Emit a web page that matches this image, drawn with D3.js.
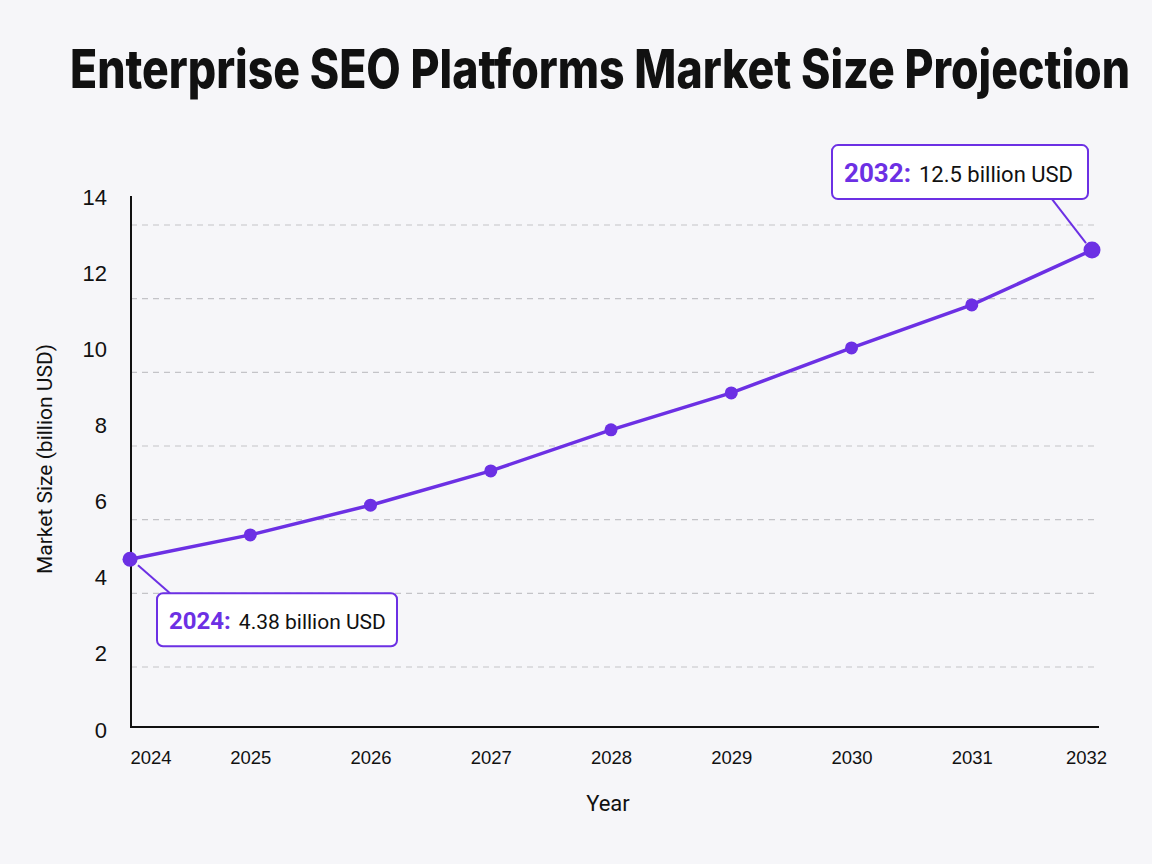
<!DOCTYPE html>
<html>
<head>
<meta charset="utf-8">
<script src="https://cdn.jsdelivr.net/npm/d3@7"></script>
<style>
  html, body { margin: 0; padding: 0; background: #f6f6f9; }
  svg { display: block; font-family: Roboto, "Noto Sans", sans-serif; }
</style>
</head>
<body>
<div class="chart"></div>
<script>
let years = [2024, 2025, 2026, 2027, 2028, 2029, 2030, 2031, 2032];
let marketSize = [4.38, 5.02, 5.8, 6.7, 7.78, 8.75, 9.93, 11.06, 12.5];
let yTicks = [0, 2, 4, 6, 8, 10, 12, 14];
let gridTicks = [2, 4, 6, 8, 10, 12, 14];
let callouts = [
  { year: 2024, label: "2024:", text: "4.38 billion USD" },
  { year: 2032, label: "2032:", text: "12.5 billion USD" }
];

let svgWidth = 1152;
let svgHeight = 864;
let purple = "#6c30e4";

let svg = d3.select(".chart")
  .append("svg")
  .attr("width", svgWidth)
  .attr("height", svgHeight);

svg.append("rect")
  .attr("width", svgWidth)
  .attr("height", svgHeight)
  .attr("fill", "#f6f6f9");

let x = d3.scalePoint()
  .domain(years)
  .range([130, 1092]);

let y = d3.scaleLinear()
  .domain([0, 14])
  .range([726, 193]);

// grid lines in the picture sit a little below the tick labels
let gridY = d3.scaleLinear()
  .domain([2, 14])
  .range([667, 225]);

// title (condensed look: smaller font stretched vertically)
svg.append("text")
  .attr("transform", "translate(600,88) scale(1,1.35)")
  .attr("text-anchor", "middle")
  .attr("textLength", 1060)
  .attr("lengthAdjust", "spacingAndGlyphs")
  .style("font-family", "Inter, Roboto, sans-serif")
  .style("font-weight", 800)
  .style("font-size", "40px")
  .attr("fill", "#111")
  .text("Enterprise SEO Platforms Market Size Projection");

// grid
svg.append("g")
  .selectAll("line")
  .data(gridTicks)
  .enter()
  .append("line")
  .attr("x1", 131)
  .attr("x2", 1099)
  .attr("y1", d => gridY(d))
  .attr("y2", d => gridY(d))
  .attr("stroke", "#c4c4c8")
  .attr("stroke-width", 1.2)
  .attr("stroke-dasharray", "6,5");

// axes
let leftAxis = d3.axisLeft(y).tickValues(yTicks).tickSize(0).tickPadding(24);
let yAxisG = svg.append("g")
  .attr("transform", "translate(131,0)")
  .call(leftAxis);
yAxisG.select(".domain").remove();
yAxisG.selectAll("text")
  .style("font-size", "22px")
  .attr("dy", "0.5em")
  .attr("fill", "#111");

let bottomAxis = d3.axisBottom(x).tickSize(0).tickPadding(24).tickFormat(d3.format("d"));
let xAxisG = svg.append("g")
  .attr("transform", "translate(0,727)")
  .call(bottomAxis);
xAxisG.select(".domain").remove();
xAxisG.selectAll("text")
  .style("font-size", "18.5px")
  .attr("fill", "#111")
  .attr("text-anchor", (d, i) => i === 0 ? "start" : "middle")
  .attr("dx", (d, i) => i === years.length - 1 ? -6 : 0);

svg.append("path")
  .attr("d", "M131,196V727H1099")
  .attr("fill", "none")
  .attr("stroke", "#111")
  .attr("stroke-width", 2);

// axis titles
svg.append("text")
  .attr("transform", "translate(52,459) rotate(-90)")
  .attr("text-anchor", "middle")
  .style("font-size", "21px")
  .attr("fill", "#111")
  .text("Market Size (billion USD)");

svg.append("text")
  .attr("x", 608)
  .attr("y", 811)
  .attr("text-anchor", "middle")
  .style("font-size", "22px")
  .attr("fill", "#111")
  .text("Year");

// line
let points = years.map((yr, i) => ({ year: yr, value: marketSize[i] }));

let line = d3.line()
  .x(d => x(d.year))
  .y(d => y(d.value));

svg.append("path")
  .datum(points)
  .attr("d", line)
  .attr("fill", "none")
  .attr("stroke", purple)
  .attr("stroke-width", 3.5);

svg.append("g")
  .selectAll("circle")
  .data(points)
  .enter()
  .append("circle")
  .attr("cx", d => x(d.year))
  .attr("cy", d => y(d.value))
  .attr("r", (d, i) => i === 0 ? 7.5 : (i === points.length - 1 ? 8.5 : 6.5))
  .attr("fill", purple);

// callouts
let boxOffsets = {
  2024: { dx: 27, dy: 34, w: 240, h: 53, lx: 40, ly: 34, sx: 8, sy: 6, f1: 24, f2: 21, gap: 8, ty: 36 },
  2032: { dx: -260, dy: -105, w: 256, h: 54, lx: -40, ly: -51, sx: -6, sy: -7, f1: 26, f2: 22, gap: 8, ty: 37 }
};

callouts.forEach(function(c) {
  let px = x(c.year);
  let py = y(marketSize[years.indexOf(c.year)]);
  let o = boxOffsets[c.year];

  svg.append("line")
    .attr("x1", px + o.sx)
    .attr("y1", py + o.sy)
    .attr("x2", px + o.lx)
    .attr("y2", py + o.ly)
    .attr("stroke", purple)
    .attr("stroke-width", 2);

  let g = svg.append("g")
    .attr("transform", `translate(${px + o.dx}, ${py + o.dy})`);

  g.append("rect")
    .attr("width", o.w)
    .attr("height", o.h)
    .attr("rx", 6)
    .attr("fill", "#fff")
    .attr("stroke", purple)
    .attr("stroke-width", 2);

  let t = g.append("text")
    .attr("x", 12)
    .attr("y", o.ty);
  t.append("tspan")
    .style("font-size", o.f1 + "px")
    .style("font-weight", 700)
    .attr("fill", purple)
    .text(c.label);
  t.append("tspan")
    .attr("dx", o.gap)
    .style("font-size", o.f2 + "px")
    .attr("fill", "#111")
    .text(c.text);
});
</script>
</body>
</html>
